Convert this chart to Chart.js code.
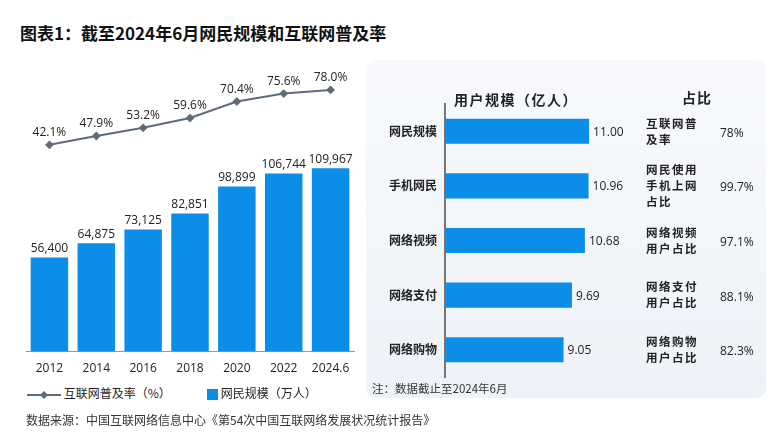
<!DOCTYPE html>
<html><head><meta charset="utf-8">
<script src="https://cdn.jsdelivr.net/npm/chart.js@4"></script>
<style>
body{margin:0;width:773px;height:440px;background:#fff;position:relative;font-family:"Noto Sans CJK SC",sans-serif;overflow:hidden}
.abs{position:absolute}
#title{left:20px;top:20px;font-size:17px;font-weight:bold;color:#111}
#panel{left:366px;top:60px;width:400px;height:338px;background:linear-gradient(#f7f9fc,#eef2f8);border-radius:10px}
#src{left:26px;top:411px;font-size:12px;color:#333}
#note{left:372px;top:380px;font-size:11.5px;color:#333}
.leg{top:384px;font-size:12px;color:#222}
</style></head><body>
<div id="title" class="abs">图表1：截至2024年6月网民规模和互联网普及率</div>
<div id="panel" class="abs"></div>
<canvas id="left" class="abs" width="340" height="318" style="left:20px;top:60px"></canvas>
<canvas id="right" class="abs" width="400" height="340" style="left:366px;top:60px"></canvas>
<div class="abs leg" style="left:27px"><svg width="34" height="10" style="vertical-align:middle"><line x1="0" y1="5" x2="34" y2="5" stroke="#5f6b7a" stroke-width="2"/><polygon points="17,1 21,5 17,9 13,5" fill="#5f6b7a"/></svg> 互联网普及率（%）</div>
<div class="abs leg" style="left:207px"><span style="display:inline-block;width:11px;height:11px;background:#0a8ee8;vertical-align:middle"></span> 网民规模（万人）</div>
<div id="note" class="abs">注：数据截止至2024年6月</div>
<div id="src" class="abs">数据来源：中国互联网络信息中心《第54次中国互联网络发展状况统计报告》</div>
<script>
const years = ['2012','2014','2016','2018','2020','2022','2024.6'];
const netizens = [56400, 64875, 73125, 82851, 98899, 106744, 109967];
const penetration = [42.1, 47.9, 53.2, 59.6, 70.4, 75.6, 78.0];

const usageCats = ['网民规模','手机网民','网络视频','网络支付','网络购物'];
const usageValues = [11.00, 10.96, 10.68, 9.69, 9.05];
const shareLabels = [['互联网普','及率'],['网民使用','手机上网','占比'],['网络视频','用户占比'],['网络支付','用户占比'],['网络购物','用户占比']];
const shareValues = ['78%','99.7%','97.1%','88.1%','82.3%'];

const BLUE = '#0a8ee8';
const GREY = '#5f6b7a';
const numFont = '12px "Open Sans", sans-serif';

// 数值标签
const leftLabels = {
  id: 'leftLabels',
  afterDatasetsDraw(chart) {
    const ctx = chart.ctx;
    ctx.save();
    ctx.font = numFont;
    ctx.fillStyle = '#222';
    ctx.textAlign = 'center';
    ctx.textBaseline = 'bottom';
    chart.getDatasetMeta(1).data.forEach((b, i) => {
      ctx.fillText(netizens[i].toLocaleString('en-US'), b.x, b.y - 3);
    });
    chart.getDatasetMeta(0).data.forEach((p, i) => {
      ctx.fillText(penetration[i].toFixed(1) + '%', p.x, p.y - 6);
    });
    ctx.restore();
  }
};

new Chart(document.getElementById('left'), {
  data: {
    labels: years,
    datasets: [{
      type: 'line', data: penetration, yAxisID: 'y2',
      borderColor: GREY, borderWidth: 2, pointStyle: 'rectRot', pointRadius: 3,
      pointBackgroundColor: GREY, pointBorderColor: GREY
    }, {
      type: 'bar', data: netizens, yAxisID: 'y',
      backgroundColor: BLUE, barPercentage: 0.8, categoryPercentage: 1
    }]
  },
  options: {
    responsive: false, animation: false,
    layout: { padding: { left: 5, right: 5, top: 10, bottom: 0 } },
    plugins: { legend: { display: false }, tooltip: { enabled: false } },
    scales: {
      x: { grid: { display: false }, border: { color: '#999' },
           ticks: { color: '#222', maxRotation: 0, autoSkip: false, font: { size: 12, family: '"Open Sans", sans-serif' }, padding: 2 } },
      y: { display: false, min: 0, max: 168800 },
      y2: { display: false, min: -93, max: 91 }
    }
  },
  plugins: [leftLabels]
});

// 右侧文字
function spaced(ctx, text, x, y, gap) {
  for (const ch of text) {
    ctx.fillText(ch, x, y);
    x += ctx.measureText(ch).width + gap;
  }
}
const rightText = {
  id: 'rightText',
  afterDatasetsDraw(chart) {
    const ctx = chart.ctx;
    ctx.save();
    ctx.fillStyle = '#222';
    ctx.textBaseline = 'middle';
    ctx.textAlign = 'left';
    ctx.font = 'bold 14px "Noto Sans CJK SC"';
    spaced(ctx, '用户规模（亿人）', 88, 40, 1.5);
    spaced(ctx, '占比', 316, 38, 1);
    chart.getDatasetMeta(0).data.forEach((b, i) => {
      ctx.font = numFont;
      ctx.fillText(usageValues[i].toFixed(2), b.x + 4, b.y + 1);
      ctx.fillText(shareValues[i], 354, b.y + 2);
      ctx.font = 'bold 11.5px "Noto Sans CJK SC"';
      const lines = shareLabels[i];
      const h = 16;
      lines.forEach((t, k) => {
        spaced(ctx, t, 280, b.y + (k - (lines.length - 1) / 2) * h, 1.5);
      });
    });
    ctx.restore();
  }
};

new Chart(document.getElementById('right'), {
  type: 'bar',
  data: { labels: usageCats, datasets: [{ data: usageValues, backgroundColor: BLUE, barPercentage: 0.46, categoryPercentage: 1 }] },
  options: {
    indexAxis: 'y', responsive: false, animation: false,
    layout: { padding: { left: 0, right: 59, top: 44, bottom: 23 } },
    plugins: { legend: { display: false }, tooltip: { enabled: false } },
    scales: {
      x: { display: false, min: 0, max: 20 },
      y: {
        grid: { display: false, drawTicks: false }, border: { color: '#777', width: 2 },
        ticks: { color: '#222', padding: 8, autoSkip: false, font: { size: 12, weight: 'bold', family: '"Noto Sans CJK SC"' } },
        afterFit(s) { s.width = 79; }
      }
    }
  },
  plugins: [rightText]
});
</script>
</body></html>
